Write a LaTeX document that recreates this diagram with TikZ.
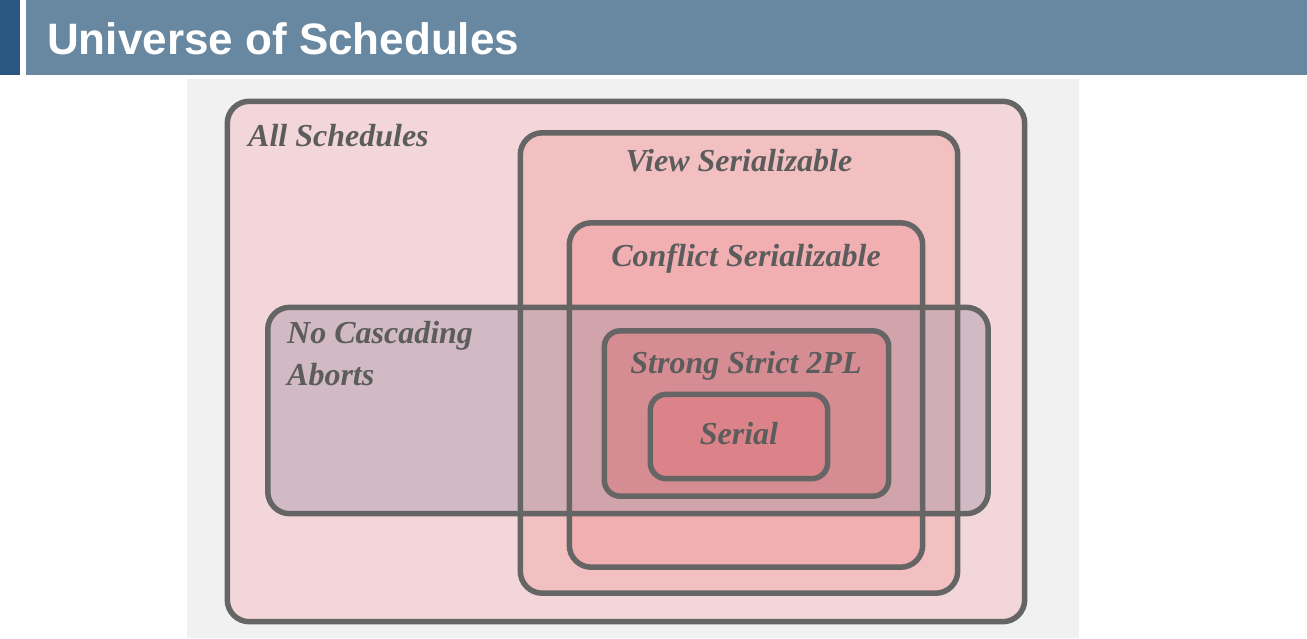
\documentclass[tikz,border=0pt]{standalone}
\usepackage{fontspec}
\setmainfont{Liberation Serif}
\newfontfamily\titlefont{Liberation Sans}
\definecolor{hdark}{HTML}{295781}
\definecolor{hbar}{HTML}{6887A1}
\definecolor{panel}{HTML}{F1F1F1}
\definecolor{edge}{HTML}{656565}
\definecolor{txt}{HTML}{5C5C5C}
\definecolor{fAll}{HTML}{F3D6D9}
\definecolor{fView}{HTML}{F3C0C2}
\definecolor{fConf}{HTML}{F2AFB1}
\definecolor{fNCA}{RGB}{160,146,162}
\definecolor{fSS}{HTML}{D58D93}
\definecolor{fSer}{HTML}{DB8389}
\tikzset{
  setbox/.style={rectangle, inner sep=0pt, draw=none, rounded corners=22pt},
  setedge/.style={draw=edge, line width=5.5pt, rounded corners=22pt},
  smalledge/.style={draw=edge, line width=5.5pt, rounded corners=16pt},
  lbl/.style={text=txt, font=\fontsize{32}{42}\selectfont\bfseries\itshape, inner sep=0pt},
}
\begin{document}
\begin{tikzpicture}[x=1pt,y=-1pt]
\useasboundingbox (0,0) rectangle (1307,638);
\fill[white] (0,0) rectangle (1307,638);
% header
\fill[hdark] (0,0) rectangle (20,75);
\fill[hbar] (26,0) rectangle (1307,75);
\node[anchor=base west, text=white, inner sep=0pt, font=\titlefont\fontsize{44}{50}\selectfont\bfseries] (title) at (47,54) {Universe of Schedules};
% panel
\fill[panel] (187,79) rectangle (1079,638);
% set fills
\node[setbox, fill=fAll, minimum width=797pt, minimum height=520pt] (all) at (626,361.5) {};
\node[setbox, fill=fView, minimum width=437pt, minimum height=460pt] (view) at (739,363) {};
\node[setbox, fill=fConf, minimum width=353pt, minimum height=344pt] (conf) at (746,395) {};
\node[setbox, fill=fNCA, fill opacity=0.4, minimum width=720pt, minimum height=206pt] (nca) at (628,410.5) {};
\node[setbox, fill=fSS, rounded corners=16pt, minimum width=284pt, minimum height=165pt] (ss) at (746.5,413.5) {};
\node[setbox, fill=fSer, rounded corners=16pt, minimum width=177pt, minimum height=84pt] (ser) at (739,436.5) {};
% borders
\draw[setedge] (all.south west) rectangle (all.north east);
\draw[setedge] (view.south west) rectangle (view.north east);
\draw[setedge] (conf.south west) rectangle (conf.north east);
\draw[setedge] (nca.south west) rectangle (nca.north east);
\draw[smalledge] (ss.south west) rectangle (ss.north east);
\draw[smalledge] (ser.south west) rectangle (ser.north east);
% labels
\node[lbl, anchor=base west] (lAll) at (248,146) {All Schedules};
\node[lbl, anchor=base] (lView) at (739,171) {View Serializable};
\node[lbl, anchor=base] (lConf) at (746,266) {Conflict Serializable};
\node[lbl, anchor=base west] (lNCA1) at (287,343) {No Cascading};
\node[lbl, anchor=base west] (lNCA2) at (287,385) {Aborts};
\node[lbl, anchor=base] (lSS) at (746,373) {Strong Strict 2PL};
\node[lbl, anchor=base] (lSer) at (739,444) {Serial};
\end{tikzpicture}
\end{document}
